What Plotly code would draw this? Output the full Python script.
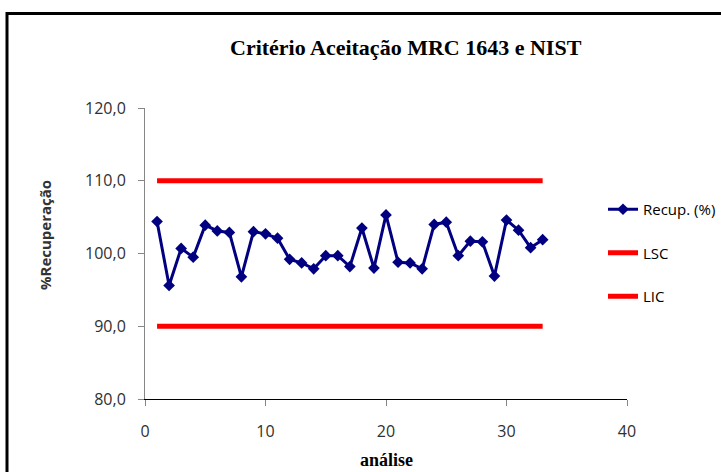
import plotly.graph_objects as go

analise = list(range(1, 34))
recup = [104.4, 95.6, 100.7, 99.5, 103.9, 103.1, 102.9, 96.8, 103.0, 102.7,
         102.1, 99.2, 98.7, 97.9, 99.7, 99.7, 98.2, 103.5, 98.0, 105.3,
         98.8, 98.7, 97.9, 104.0, 104.3, 99.7, 101.7, 101.6, 96.9, 104.6,
         103.2, 100.8, 101.9]
lsc = [110.0] * 33
lic = [90.0] * 33

W, H = 721, 472
L, R, T, B = 145, 627, 108, 399

def px(x):
    return (x - L) / (R - L)

def py(y):
    return (B - y) / (B - T)

fig = go.Figure()
fig.add_trace(go.Scatter(x=analise, y=recup, name="Recup. (%)", mode="lines+markers",
                         line=dict(color="#000080", width=3),
                         marker=dict(symbol="diamond", size=9, color="#000080"),
                         legendgroup="a"))
fig.add_trace(go.Scatter(x=analise, y=lsc, name="LSC", mode="lines",
                         line=dict(color="#FF0000", width=5), legendgroup="b"))
fig.add_trace(go.Scatter(x=analise, y=lic, name="LIC", mode="lines",
                         line=dict(color="#FF0000", width=5), legendgroup="c"))

axis_font = dict(family="Open Sans, Liberation Sans, sans-serif", size=16, color="#303030")

fig.update_layout(
    width=W, height=H,
    margin=dict(l=L, r=W - R, t=T, b=H - B, autoexpand=False),
    paper_bgcolor="white", plot_bgcolor="white",
    separators=",.",
    showlegend=True,
    legend=dict(x=px(603), y=py(193), xanchor="left", yanchor="top",
                font=dict(family="Open Sans, Liberation Sans, sans-serif", size=15, color="#000000"),
                tracegroupgap=21, bgcolor="rgba(0,0,0,0)"),
    xaxis=dict(range=[0, 40], dtick=10, showgrid=False, zeroline=False,
               showline=True, linecolor="#000000", linewidth=1,
               ticks="outside", ticklen=6, tickcolor="#868686",
               tickfont=axis_font, tickformat="d", ticklabelstandoff=12),
    yaxis=dict(range=[80, 120], dtick=10, showgrid=False, zeroline=False,
               showline=True, linecolor="#868686", linewidth=1,
               ticks="outside", ticklen=6, tickcolor="#868686",
               tickfont=axis_font, tickformat=".1f", ticklabelstandoff=9),
    shapes=[dict(type="rect", xref="paper", yref="paper",
                 x0=px(7), x1=px(740), y0=py(490), y1=py(13.5),
                 line=dict(color="black", width=3), fillcolor="rgba(0,0,0,0)", layer="above")],
    annotations=[
        dict(text="<b>Critério Aceitação MRC 1643 e NIST</b>", x=px(406), y=py(47),
             xref="paper", yref="paper", showarrow=False, xanchor="center", yanchor="middle",
             font=dict(family="Liberation Serif, Times New Roman, serif", size=22, color="black")),
        dict(text="<b>análise</b>", x=px(386), y=py(460),
             xref="paper", yref="paper", showarrow=False, xanchor="center", yanchor="middle",
             font=dict(family="Liberation Serif, Times New Roman, serif", size=18, color="black")),
        dict(text="<b>%Recuperação</b>", x=px(45), y=py(235), textangle=-90,
             xref="paper", yref="paper", showarrow=False, xanchor="center", yanchor="middle",
             font=dict(family="Open Sans, Liberation Sans, sans-serif", size=15, color="#333333")),
    ],
)

fig.write_html("out.html")
